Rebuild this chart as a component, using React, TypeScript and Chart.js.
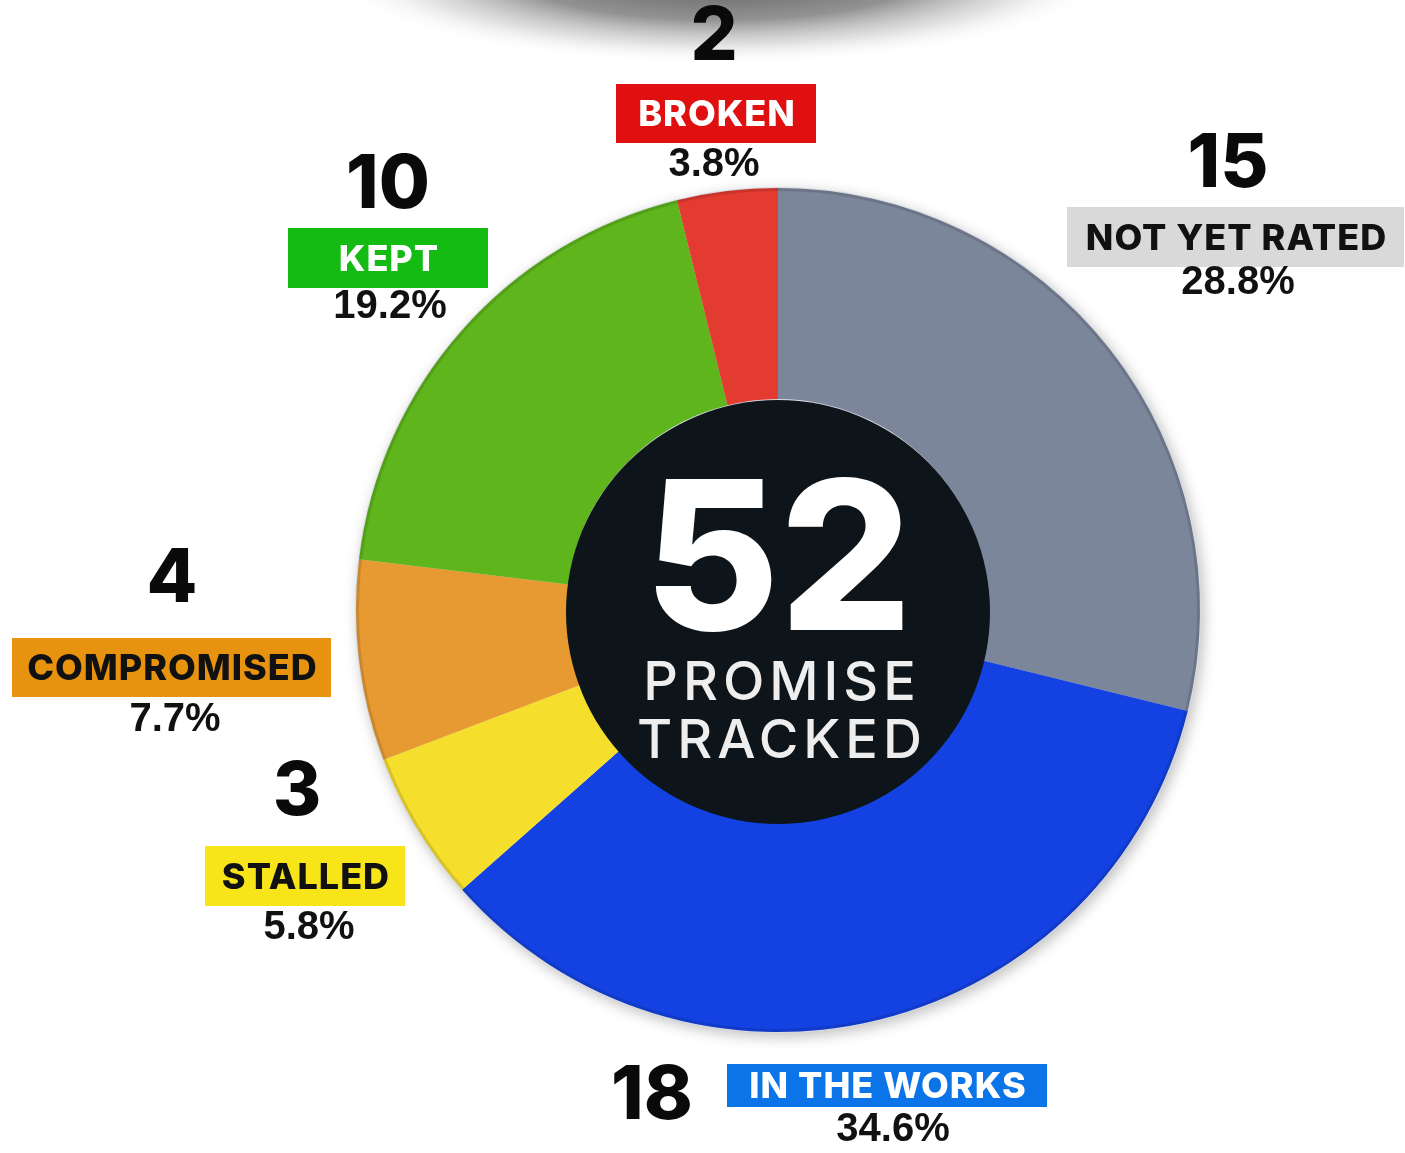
import React, { useEffect, useRef } from "react";
import { Chart, registerables } from "chart.js";

Chart.register(...registerables);

const categories = ["NOT YET RATED", "IN THE WORKS", "STALLED", "COMPROMISED", "KEPT", "BROKEN"];
const counts = [15, 18, 3, 4, 10, 2];
const percentLabels = ["28.8%", "34.6%", "5.8%", "7.7%", "19.2%", "3.8%"];
const sliceColors = ["#7b869b", "#1442e2", "#f6de2c", "#e89a32", "#5eb51c", "#e43b30"];
const boxColors = ["#d9d9d9", "#0b74e8", "#f7e51a", "#e8930f", "#13bb13", "#e01010"];
const boxTextColors = ["#111111", "#ffffff", "#111111", "#111111", "#ffffff", "#ffffff"];
const totalLabel = "52";
const centerLines = ["PROMISE", "TRACKED"];

// label layout (offsets from chart centre), kept separate from data
const labelLayout = [
  { num: [450, -445], box: [289, -403, 337, 60], pct: [460, -327] },
  { num: [-126, 487], box: [-51, 454, 320, 43], pct: [115, 520] },
  { num: [-481, 183], box: [-573, 236, 200, 60], pct: [-469, 318] },
  { num: [-606, -30], box: [-766, 28, 319, 59], pct: [-603, 110] },
  { num: [-390, -424], box: [-490, -382, 200, 60], pct: [-388, -303] },
  { num: [-64, -572], box: [-162, -526, 200, 59], pct: [-64, -445] },
];

const NUM_FONT = "800 74px Inter, 'Open Sans', sans-serif";
const BOX_FONT = "800 36px Inter, 'Open Sans', sans-serif";
const PCT_FONT = "bold 40px 'Liberation Sans', Arial, sans-serif";

const decorPlugin = {
  id: "decor",
  beforeDraw(chart: any) {
    const ctx = chart.ctx;
    ctx.save();
    ctx.fillStyle = "#ffffff";
    ctx.fillRect(0, 0, chart.width, chart.height);
    // top shadow
    ctx.translate(720, -35);
    ctx.scale(1, 0.25);
    const g = ctx.createRadialGradient(0, 0, 0, 0, 0, 400);
    g.addColorStop(0, "rgba(70,70,70,1)");
    g.addColorStop(0.55, "rgba(110,110,110,0.75)");
    g.addColorStop(0.8, "rgba(170,170,170,0.35)");
    g.addColorStop(1, "rgba(255,255,255,0)");
    ctx.fillStyle = g;
    ctx.beginPath();
    ctx.arc(0, 0, 400, 0, Math.PI * 2);
    ctx.fill();
    ctx.restore();
  },
  beforeDatasetsDraw(chart: any) {
    const meta = chart.getDatasetMeta(0);
    const arc = meta.data[0];
    if (!arc) return;
    const ctx = chart.ctx;
    ctx.save();
    ctx.shadowColor = "rgba(0,0,0,0.25)";
    ctx.shadowBlur = 14;
    ctx.shadowOffsetX = 3;
    ctx.shadowOffsetY = 4;
    ctx.fillStyle = "#d8dbe2";
    ctx.beginPath();
    ctx.arc(arc.x, arc.y, arc.outerRadius + 1, 0, Math.PI * 2);
    ctx.fill();
    ctx.restore();
  },
  afterDatasetsDraw(chart: any) {
    const meta = chart.getDatasetMeta(0);
    const arc = meta.data[0];
    if (!arc) return;
    const ctx = chart.ctx;
    const cx = arc.x;
    const cy = arc.y;
    ctx.save();
    // rim
    ctx.strokeStyle = "rgba(0,0,0,0.12)";
    ctx.lineWidth = 3;
    ctx.beginPath();
    ctx.arc(cx, cy, arc.outerRadius - 1.5, 0, Math.PI * 2);
    ctx.stroke();
    // centre disc
    ctx.fillStyle = "#0d151a";
    ctx.beginPath();
    ctx.arc(cx, cy + 2, arc.innerRadius + 1, 0, Math.PI * 2);
    ctx.fill();
    ctx.fillStyle = "#ffffff";
    ctx.textAlign = "center";
    ctx.textBaseline = "alphabetic";
    ctx.font = "800 208px Inter, 'Open Sans', sans-serif";
    ctx.fillText(totalLabel, cx, cy + 20);
    ctx.fillStyle = "#eeeeee";
    ctx.font = "500 54px Inter, 'Open Sans', sans-serif";
    (ctx as any).letterSpacing = "5px";
    ctx.fillText(centerLines[0], cx + 4, cy + 90);
    ctx.fillText(centerLines[1], cx + 4, cy + 148);
    (ctx as any).letterSpacing = "0px";

    // labels
    ctx.textBaseline = "middle";
    counts.forEach((v, i) => {
      const L = labelLayout[i];
      ctx.fillStyle = "#0a0a0a";
      ctx.font = NUM_FONT;
      ctx.fillText(String(v), cx + L.num[0], cy + L.num[1]);
      const [bx, by, bw, bh] = L.box;
      ctx.fillStyle = boxColors[i];
      ctx.fillRect(cx + bx, cy + by, bw, bh);
      ctx.fillStyle = boxTextColors[i];
      ctx.font = BOX_FONT;
      (ctx as any).letterSpacing = "1px";
      ctx.fillText(categories[i], cx + bx + bw / 2 + 1, cy + by + bh / 2 + 2);
      (ctx as any).letterSpacing = "0px";
      ctx.fillStyle = "#111111";
      ctx.font = PCT_FONT;
      ctx.fillText(percentLabels[i], cx + L.pct[0], cy + L.pct[1]);
    });
    ctx.restore();
  },
};

export default function App() {
  const ref = useRef<HTMLCanvasElement | null>(null);
  useEffect(() => {
    if (!ref.current) return;
    const chart = new Chart(ref.current, {
      type: "doughnut",
      data: {
        labels: categories,
        datasets: [
          {
            data: counts,
            backgroundColor: sliceColors,
            borderWidth: 0,
          },
        ],
      },
      options: {
        responsive: false,
        animation: false,
        cutout: "50%",
        rotation: 0,
        layout: { padding: { left: 356, right: 205, top: 188, bottom: 121 } },
        plugins: {
          legend: { display: false },
          tooltip: { enabled: false },
          title: { display: false },
        },
      },
      plugins: [decorPlugin],
    });
    return () => chart.destroy();
  }, []);
  return (
    <div style={{ position: "absolute", left: 0, top: 0, width: 1405, height: 1153 }}>
      <canvas ref={ref} width={1405} height={1153} style={{ display: "block" }} />
    </div>
  );
}
